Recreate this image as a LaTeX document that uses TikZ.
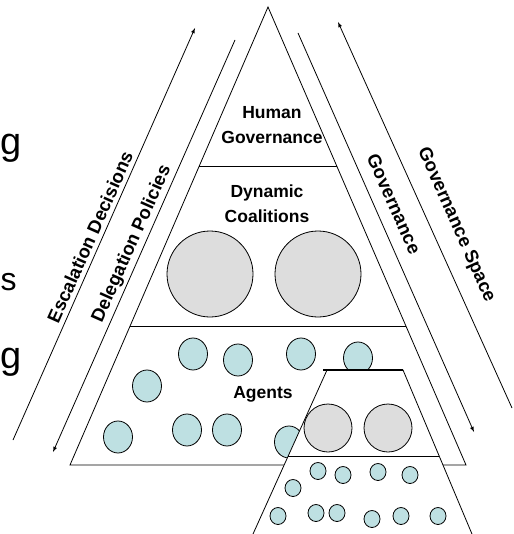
\documentclass[tikz,border=0pt]{standalone}
\usepackage{fontspec}
\setmainfont{Liberation Sans}
\usetikzlibrary{shapes.geometric}
\definecolor{agentblue}{RGB}{190,224,226}
\definecolor{coalgrey}{RGB}{221,221,221}

\begin{document}
\begin{tikzpicture}[x=1pt, y=-1pt, line width=0.8pt]
\tikzstyle{agent}=[draw, shape=ellipse, fill=agentblue, inner sep=0pt, minimum width=29pt, minimum height=32pt]
\tikzstyle{minagent}=[agent, minimum width=16pt, minimum height=17pt]
\tikzstyle{coalition}=[draw, shape=circle, fill=coalgrey, inner sep=0pt]
\tikzstyle{tier}=[font=\fontsize{17.5}{25}\selectfont\bfseries, align=center, inner sep=0pt]
\tikzstyle{flow}=[font=\fontsize{18.5}{21}\selectfont\bfseries, inner sep=0pt]
\useasboundingbox (0,0) rectangle (513,534);

\path (-3,155) node[anchor=base west, font=\fontsize{38}{40}\selectfont] (frag1) {g};
\path (-3,290) node[anchor=base west, font=\fontsize{32}{36}\selectfont] (frag2) {s};
\path (-3,368) node[anchor=base west, font=\fontsize{38}{40}\selectfont] (frag3) {g};

% pyramid of tiers
\coordinate (apex) at (268,7);
\coordinate (bl) at (70,465);
\coordinate (br) at (466,465);
\draw[fill=white] (bl) -- (apex) -- (br) -- cycle;
\draw (199.3,166) -- (336.7,166);
\draw (130.1,326) -- (405.9,326);

\node[tier, anchor=north] (human) at (272,106) {Human\\Governance};
\node[tier, anchor=north] (dyn) at (267,184) {Dynamic\\Coalitions};
\node[tier, anchor=base] (agents) at (263,398) {Agents};

\node[coalition, minimum size=86pt] (c1) at (210,274) {};
\node[coalition, minimum size=86pt] (c2) at (318,274) {};

\foreach \x/\y [count=\i] in {147/386, 193/354, 238/360, 301/354, 358/358,
                             118/437, 187/430, 227/430, 289/442}
{
\node[agent] (a\i) at (\x,\y) {};
}

% zoomed-in copy below
\draw[fill=white] (250.3,540) -- (327,370) -- (403,370) -- (474.5,540);
\draw[line width=1.4pt] (323,370) -- (403,370);
\draw (288,456) -- (439,456);
\node[coalition, minimum size=48pt] (s1) at (328,428) {};
\node[coalition, minimum size=48pt] (s2) at (388,428) {};
\foreach \x/\y [count=\i] in {318/471, 343/475, 378/472, 410/475, 293/488,
                             278/516, 316/513, 337/513, 372/519, 401/516, 438/516}
{
\node[minagent] (m\i) at (\x,\y) {};
}

% flows along the sides
\coordinate (esc0) at (13,440);
\coordinate (esc1) at (195,28);
\coordinate (del0) at (235,40);
\coordinate (del1) at (53,452);
\coordinate (gov0) at (298,33);
\coordinate (gov1) at (474,432);
\coordinate (gsp0) at (512,408);
\coordinate (gsp1) at (338,22);
\draw[-latex] (esc0) -- (esc1);
\draw[-latex] (del0) -- (del1);
\draw[-latex] (gov0) -- (gov1);
\draw[-latex] (gsp0) -- (gsp1);

\node[flow, rotate=66] (escl) at (90,237) {Escalation Decisions};
\node[flow, rotate=66] (dell) at (132,244) {Delegation Policies};
\node[flow, rotate=-66] (govl) at (394,204) {Governance};
\node[flow, rotate=-66] (gspl) at (456,225) {Governance Space};
\end{tikzpicture}
\end{document}
